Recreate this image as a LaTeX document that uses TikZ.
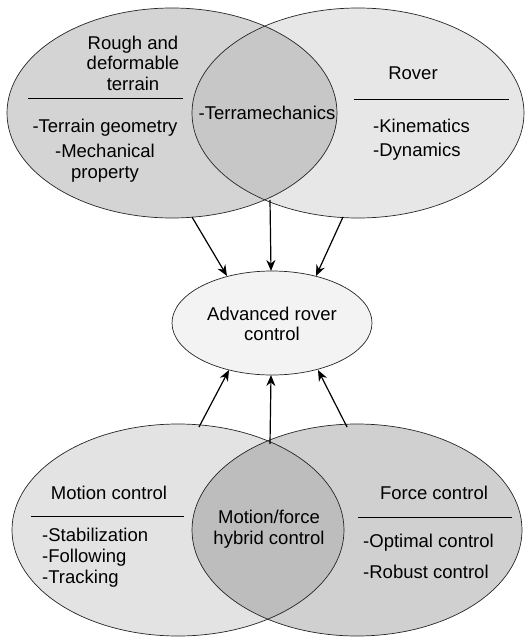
\documentclass[tikz,border=0pt]{standalone}
\usepackage{fontspec}
\setmainfont{Liberation Sans}
\usetikzlibrary{arrows.meta}
\definecolor{gA}{HTML}{D4D4D4}
\definecolor{gB}{HTML}{E7E7E7}
\definecolor{gC}{HTML}{C7C7C7}
\definecolor{gD}{HTML}{E3E3E3}
\definecolor{gE}{HTML}{D0D0D0}
\definecolor{gF}{HTML}{BDBDBD}
\definecolor{gG}{HTML}{F3F3F3}
\tikzset{
  txt/.style={font=\fontsize{18.5}{20.5}\selectfont, inner sep=0pt, align=center},
  rim/.style={draw=black!85, line width=0.7pt},
  link/.style={line width=1.2pt, -{Stealth[length=11pt,width=9pt]}},
  rule/.style={line width=0.7pt}
}
\begin{document}
\begin{tikzpicture}[x=1pt,y=-1pt]
\useasboundingbox (0,0) rectangle (530,639);

% --- upper pair of ellipses ---
\fill[gA] (172,113) ellipse [x radius=165, y radius=105];
\fill[gB] (358,113) ellipse [x radius=166, y radius=105];
\begin{scope}
  \clip (172,113) ellipse [x radius=165, y radius=105];
  \fill[gC] (358,113) ellipse [x radius=166, y radius=105];
\end{scope}
\draw[rim] (172,113) ellipse [x radius=165, y radius=105];
\draw[rim] (358,113) ellipse [x radius=166, y radius=105];

% --- lower pair of ellipses ---
\fill[gD] (178,530) ellipse [x radius=166, y radius=106];
\fill[gE] (357,530) ellipse [x radius=165, y radius=106];
\begin{scope}
  \clip (178,530) ellipse [x radius=166, y radius=106];
  \fill[gF] (357,530) ellipse [x radius=165, y radius=106];
\end{scope}
\draw[rim] (178,530) ellipse [x radius=166, y radius=106];
\draw[rim] (357,530) ellipse [x radius=165, y radius=106];

% --- central target ---
\draw[rim, fill=gG] (272,323) ellipse [x radius=100, y radius=52];
\node[txt] (arc) at (272,324) {Advanced rover\\control};

% --- upper texts ---
\node[txt] (terrain) at (133,63) {Rough and\\deformable\\terrain};
\draw[rule] (28,98) -- (183,98);
\node[txt] (geo) at (105,128) {-Terrain geometry};
\node[txt] (mech) at (105,163) {-Mechanical\\property};
\node[txt] (terra) at (267,113) {-Terramechanics};
\node[txt] (rover) at (413,73) {Rover};
\draw[rule] (354,99) -- (509,99);
\node[txt, anchor=west] (kin) at (373,126) {-Kinematics};
\node[txt, anchor=west] (dyn) at (373,152) {-Dynamics};

% --- lower texts ---
\node[txt] (motion) at (109,493) {Motion control};
\draw[rule] (31,516) -- (184,516);
\node[txt, anchor=west] (stab) at (42,535) {-Stabilization};
\node[txt, anchor=west] (foll) at (42,558) {-Following};
\node[txt, anchor=west] (track) at (42,579) {-Tracking};
\node[txt] (hybrid) at (269,529) {Motion/force\\hybrid control};
\node[txt] (force) at (434,493) {Force control};
\draw[rule] (358,517) -- (512,517);
\node[txt, anchor=west] (opt) at (363,543) {-Optimal control};
\node[txt, anchor=west] (rob) at (363,572) {-Robust control};

% --- connector end points on the ellipse rims ---
\coordinate (t1) at (192,217);
\coordinate (t2) at (270,200);
\coordinate (t3) at (343,217);
\coordinate (b1) at (199,427);
\coordinate (b2) at (270,444);
\coordinate (b3) at (347,427);
\coordinate (a1) at (227,276);
\coordinate (a2) at (271,271);
\coordinate (a3) at (316,276);
\coordinate (c1) at (229,370);
\coordinate (c2) at (271,375);
\coordinate (c3) at (318,370);

\draw[link] (t1) -- (a1);
\draw[link] (t2) -- (a2);
\draw[link] (t3) -- (a3);
\draw[link] (b1) -- (c1);
\draw[link] (b2) -- (c2);
\draw[link] (b3) -- (c3);
\end{tikzpicture}
\end{document}
